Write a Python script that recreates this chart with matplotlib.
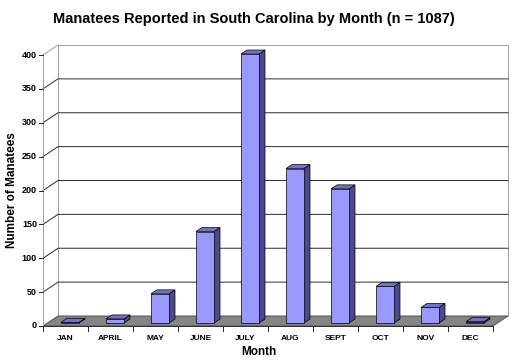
import matplotlib
matplotlib.use("Agg")
import matplotlib.pyplot as plt
from matplotlib.patches import Polygon

months = ["JAN", "APRIL", "MAY", "JUNE", "JULY", "AUG", "SEPT", "OCT", "NOV", "DEC"]
counts = [1, 6, 43, 135, 397, 228, 198, 54, 23, 2]
yticks = [0, 50, 100, 150, 200, 250, 300, 350, 400]

title = "Manatees Reported in South Carolina by Month (n = 1087)"
xlabel = "Month"
ylabel = "Number of Manatees"

W, H = 526, 364
fig = plt.figure(figsize=(W / 100, H / 100), dpi=100)
ax = fig.add_axes([0, 0, 1, 1])
ax.axis("off")

# pixel geometry of the front plot area
px_left, px_right = 43, 493
px_zero, px_top = 326, 55
ncat = len(months)
ymax = 400
sx = (px_right - px_left) / ncat          # px per category
sy = (px_zero - px_top) / ymax             # px per unit
ax.set_xlim(-px_left / sx, (W - px_left) / sx)
ax.set_ylim(-(H - px_zero) / sy, px_zero / sy)

Dx = 15 / sx
Dy = 10 / sy

lw1 = 0.72
# floor
ax.add_patch(Polygon([(0, 0), (ncat, 0), (ncat + Dx, Dy), (Dx, Dy)],
                     closed=True, facecolor="#858585", edgecolor="#555555", lw=lw1, zorder=1))
# back wall & left wall outline
ax.add_patch(Polygon([(Dx, Dy), (ncat + Dx, Dy), (ncat + Dx, ymax + Dy), (Dx, ymax + Dy)],
                     closed=True, facecolor="white", edgecolor="#a0a0a0", lw=lw1, zorder=0.5))
ax.plot([0, 0], [0, ymax], color="#a0a0a0", lw=lw1, zorder=2)
ax.plot([0, Dx], [ymax, ymax + Dy], color="#a0a0a0", lw=lw1, zorder=2)
# gridlines
for v in yticks[1:-1]:
    ax.plot([0, Dx, ncat + Dx], [v, v + Dy, v + Dy], color="#303030", lw=lw1, zorder=1)
ax.plot([0, ncat], [0, 0], color="#303030", lw=lw1, zorder=2)

# y ticks and labels
for v in yticks:
    ax.plot([-4 / sx, 0], [v, v], color="#303030", lw=lw1, zorder=2)
    ax.text(-6 / sx, v, str(v), ha="right", va="center", fontsize=6.5,
            fontweight="bold", family="Liberation Sans")
# x ticks and labels
for i in range(ncat + 1):
    ax.plot([i, i], [0, -5 / sy], color="#303030", lw=lw1, zorder=2)
for i, m in enumerate(months):
    ax.text(i + 0.5, -13 / sy, m, ha="center", va="center", fontsize=6,
            fontweight="bold", family="Liberation Sans")

# bars
f0, f1 = 0.3, 0.7
half = 0.2
front_c, side_c, top_c = "#9999ff", "#4b4b8c", "#7272cc"
for i, v in enumerate(counts):
    xl = i + 0.5 - half + f0 * Dx
    xr = i + 0.5 + half + f0 * Dx
    yb = f0 * Dy
    yt = v + f0 * Dy
    ddx = (f1 - f0) * Dx
    ddy = (f1 - f0) * Dy
    z = 3 + i * 0.01
    ax.add_patch(Polygon([(xr, yb), (xr + ddx, yb + ddy), (xr + ddx, yt + ddy), (xr, yt)],
                         closed=True, facecolor=side_c, edgecolor="black", lw=0.5, zorder=z))
    ax.add_patch(Polygon([(xl, yt), (xr, yt), (xr + ddx, yt + ddy), (xl + ddx, yt + ddy)],
                         closed=True, facecolor=top_c, edgecolor="black", lw=0.5, zorder=z))
    ax.add_patch(Polygon([(xl, yb), (xr, yb), (xr, yt), (xl, yt)],
                         closed=True, facecolor=front_c, edgecolor="black", lw=0.5, zorder=z))

# labels
ax.text(ncat / 2 - 0.2, -26 / sy, xlabel, ha="center", va="center", fontsize=8.5,
        fontweight="bold", family="Liberation Sans")
ax.text(-31 / sx, (px_zero - 190) / sy, ylabel, ha="center", va="center", rotation=90,
        fontsize=8.5, fontweight="bold", family="Liberation Sans")
fig.text(254 / W, 1 - 19 / H, title, ha="center", va="center", fontsize=10.5,
         fontweight="bold", family="Liberation Sans")

fig.savefig("out.png", dpi=100)
